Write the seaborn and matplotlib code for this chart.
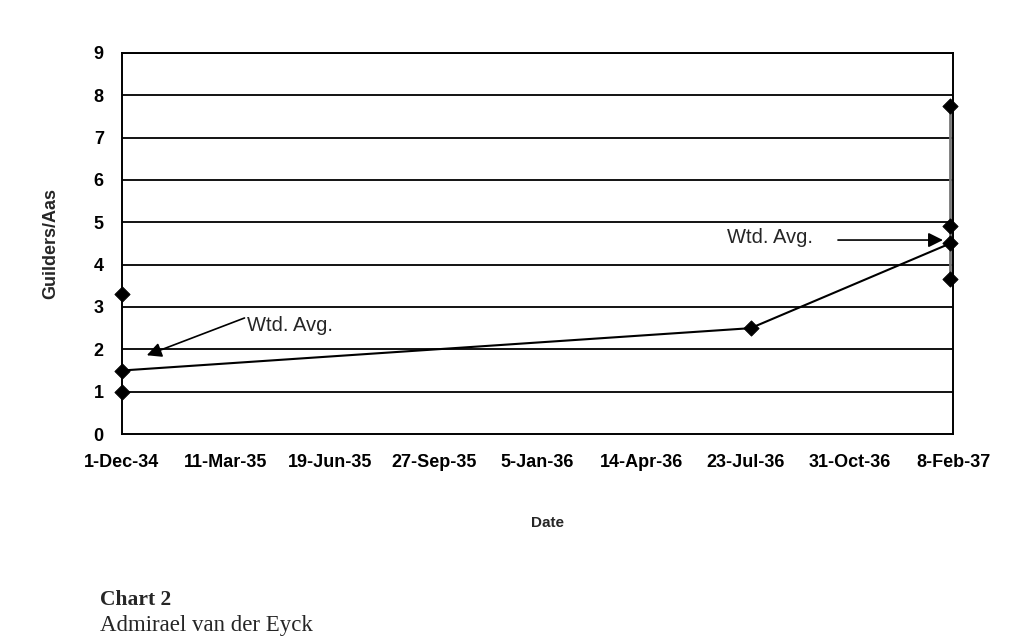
import datetime as dt

import matplotlib
matplotlib.use('Agg')
import matplotlib.pyplot as plt
import pandas as pd
import seaborn as sns

MONTHS = ['Jan', 'Feb', 'Mar', 'Apr', 'May', 'Jun',
          'Jul', 'Aug', 'Sep', 'Oct', 'Nov', 'Dec']

# data (years are 16xx)
price_dates = ['1-Dec-34', '1-Dec-34', '1-Dec-34', '28-Jul-36',
               '5-Feb-37', '5-Feb-37', '5-Feb-37', '5-Feb-37']
prices = [3.3, 1.5, 1.0, 2.5, 7.75, 4.9, 4.5, 3.65]

avg_dates = ['1-Dec-34', '28-Jul-36', '5-Feb-37']
avg_prices = [1.5, 2.5, 4.5]

tick_labels = ['1-Dec-34', '11-Mar-35', '19-Jun-35', '27-Sep-35', '5-Jan-36',
               '14-Apr-36', '23-Jul-36', '31-Oct-36', '8-Feb-37']
y_ticks = list(range(0, 10))


def parse(s):
    d, m, y = s.split('-')
    return dt.date(1600 + int(y), MONTHS.index(m) + 1, int(d))


start = parse(tick_labels[0])


def days(s):
    return (parse(s) - start).days


pts = pd.DataFrame({'day': [days(s) for s in price_dates], 'price': prices})
avg = pd.DataFrame({'day': [days(s) for s in avg_dates], 'price': avg_prices})
xticks = [days(s) for s in tick_labels]

sns.set_style('white')
plt.rcParams['font.family'] = ['Liberation Sans', 'DejaVu Sans']

fig, ax = plt.subplots(figsize=(10.24, 6.44), dpi=100)
fig.subplots_adjust(left=0.119, right=0.931, top=0.918, bottom=0.326)

# horizontal grid lines
for y in y_ticks[1:]:
    ax.axhline(y, color='black', lw=1.3, zorder=1)

# high-low line on the last date
last = pts[pts['day'] == pts['day'].max()]
ax.plot([last['day'].iloc[0]] * 2, [last['price'].min(), last['price'].max()],
        color='#777777', lw=2, zorder=2)

sns.lineplot(data=avg, x='day', y='price', color='black', lw=1.5,
             ax=ax, zorder=3)
sns.scatterplot(data=pts, x='day', y='price', marker='D', s=60,
                color='black', edgecolor='black', ax=ax, zorder=4,
                clip_on=False)

ax.set_xlim(xticks[0], xticks[-1])
ax.set_ylim(0, 9)
ax.set_xticks(xticks)
ax.set_xticklabels(tick_labels)
ax.set_yticks(y_ticks)

for lab in ax.get_xticklabels() + ax.get_yticklabels():
    lab.set_fontweight('bold')
    lab.set_fontsize(13)
ax.tick_params(axis='x', direction='in', length=6, width=1, pad=14, colors='black')
ax.tick_params(axis='y', direction='out', length=6, width=1, pad=7, colors='black')

for sp in ax.spines.values():
    sp.set_color('black')
    sp.set_linewidth(1.4)

ax.set_xlabel('Date', fontsize=11, fontweight='bold', va='center')
ax.set_ylabel('Guilders/Aas', fontsize=13, fontweight='bold', va='center')
ax.xaxis.set_label_coords(0.512, -0.234)
ax.yaxis.set_label_coords(-0.086, 0.5)

# annotations
arrow = dict(arrowstyle='-|>', color='black', lw=1.2, mutation_scale=22,
             shrinkA=0, shrinkB=0)
ax.text(120, 2.57, 'Wtd. Avg.', fontsize=14.5, va='center', ha='left')
ax.annotate('', xy=(24, 1.86), xytext=(118, 2.74), arrowprops=arrow)
ax.text(582, 4.65, 'Wtd. Avg.', fontsize=14.5, va='center', ha='left')
ax.annotate('', xy=(790, 4.58), xytext=(689, 4.58), arrowprops=arrow)

fig.text(100 / 1024, 1 - 600 / 644, 'Chart 2', fontsize=15.5,
         fontweight='bold', family='Liberation Serif', va='center')
fig.text(100 / 1024, 1 - 626 / 644, 'Admirael van der Eyck', fontsize=16.5,
         family='Liberation Serif', va='center')

fig.savefig('out.png', dpi=100)
